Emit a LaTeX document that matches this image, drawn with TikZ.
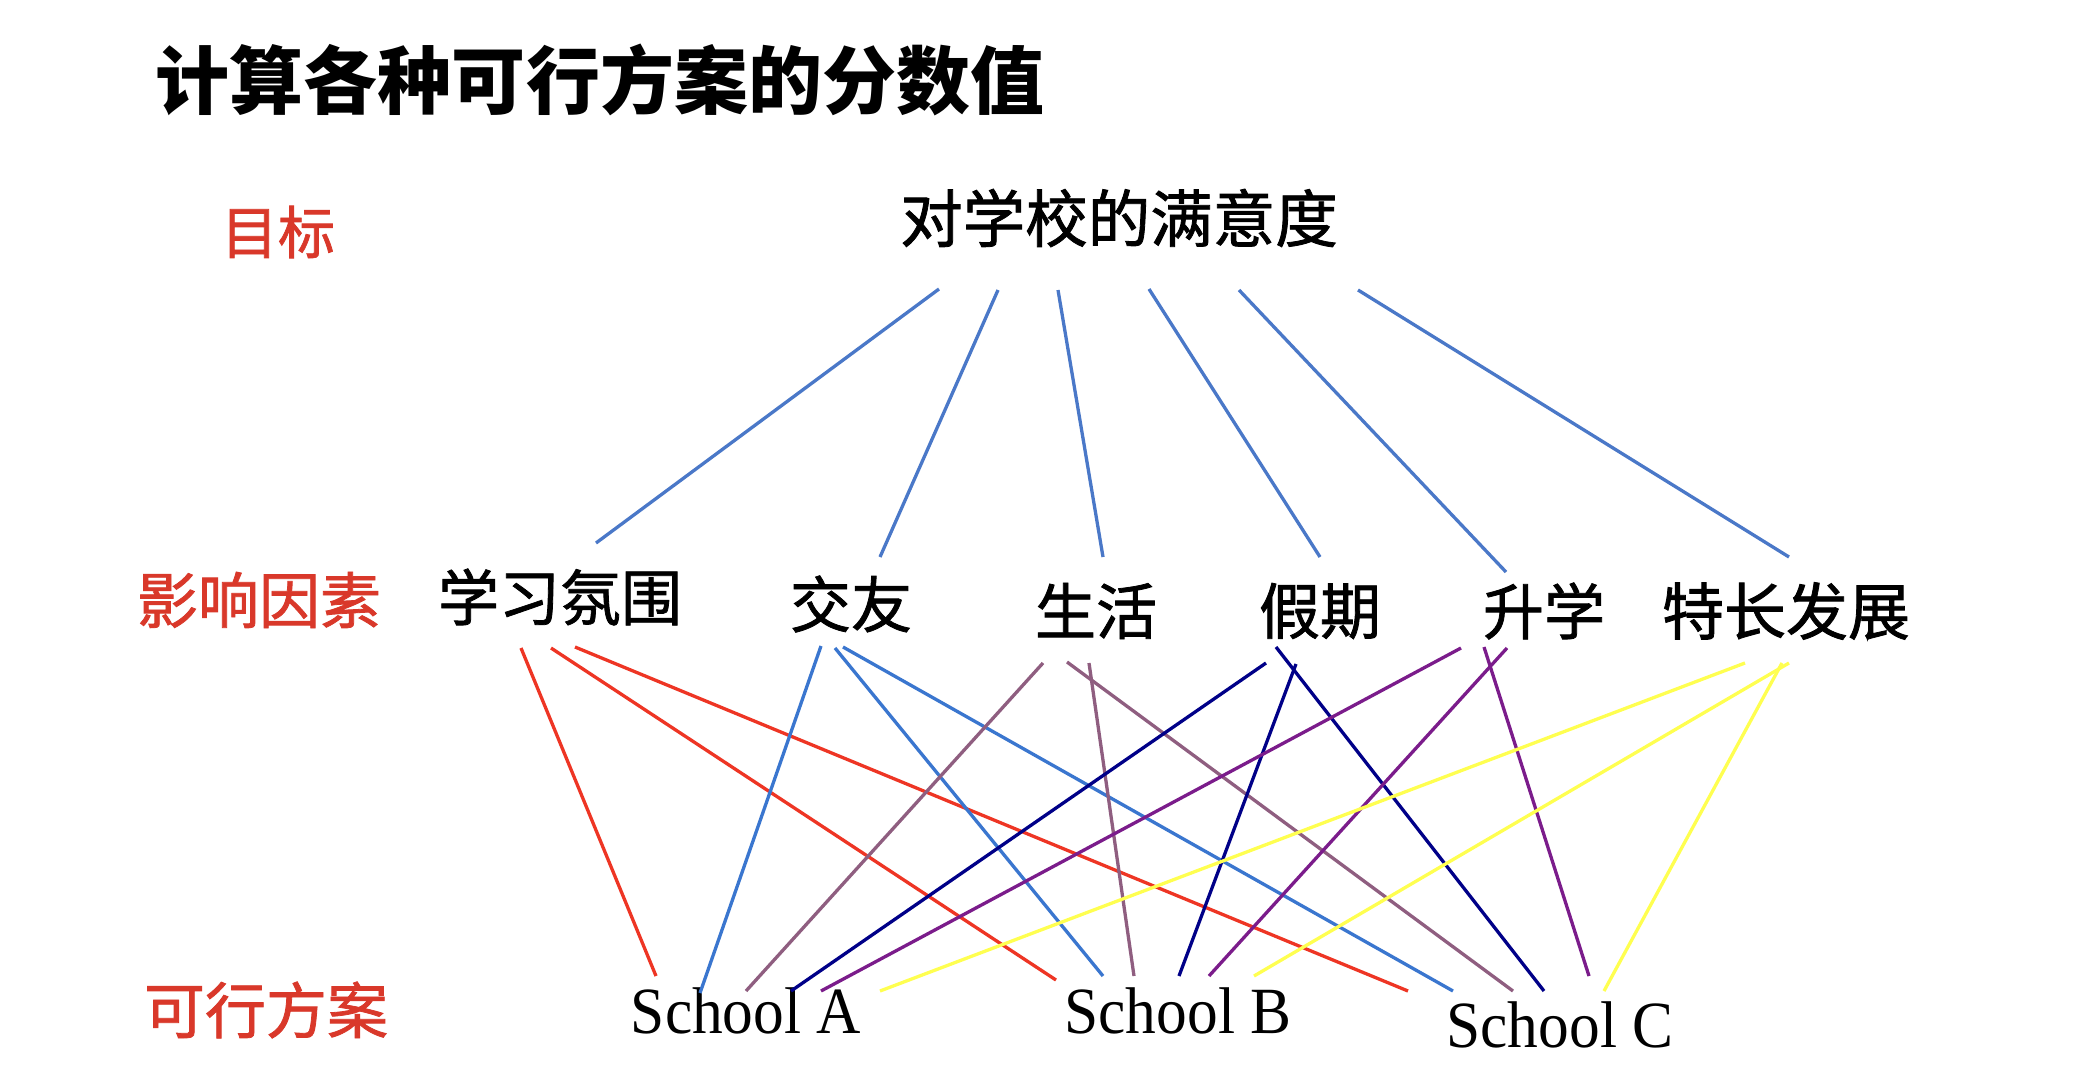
\documentclass[tikz,border=0pt]{standalone}
\usepackage{fontspec}
\newfontfamily\cjk{Noto Sans CJK SC}
\newfontfamily\cjkm[FakeBold=1.3]{Noto Sans CJK SC}
\newfontfamily\schoolfont[FakeStretch=0.93]{Liberation Serif}
\definecolor{goalblue}{HTML}{4A78C8}
\definecolor{lred}{HTML}{EE3524}
\definecolor{lblue}{HTML}{3A76CF}
\definecolor{lmauve}{HTML}{8F5E80}
\definecolor{lnavy}{HTML}{000088}
\definecolor{lpurple}{HTML}{7B1C8B}
\definecolor{lyellow}{HTML}{FFFF50}
\definecolor{labelred}{HTML}{D9382A}
\tikzset{
  cjklabel/.style={font=\cjkm\fontsize{61bp}{61bp}\selectfont, inner sep=0pt, anchor=center},
  rowlabel/.style={cjklabel, text=labelred},
  schoolnode/.style={font=\schoolfont\fontsize{66bp}{66bp}\selectfont, inner sep=0pt, anchor=base},
  conn/.style={line width=3.3bp},
}
\begin{document}
\begin{tikzpicture}[x=1bp,y=-1bp]
\fill[white] (0,0) rectangle (2076,1082);
\useasboundingbox (0,0) rectangle (2076,1082);

% title
\node[inner sep=0pt, font=\cjk\bfseries\fontsize{74bp}{74bp}\selectfont] (title) at (600,80) {计算各种可行方案的分数值};

% row labels
\node[rowlabel, font=\cjkm\fontsize{57bp}{57bp}\selectfont] (lgoal) at (278,232) {目标};
\node[rowlabel] (lfactor) at (259,600) {影响因素};
\node[rowlabel] (lalt) at (266,1010) {可行方案};

% goal
\node[cjklabel, font=\cjkm\fontsize{62.5bp}{62.5bp}\selectfont] (goal) at (1119,218) {对学校的满意度};

% criteria
\node[cjklabel] (c1) at (560,597) {学习氛围};
\node[cjklabel] (c2) at (851,604) {交友};
\node[cjklabel] (c3) at (1096,611) {生活};
\node[cjklabel] (c4) at (1320,611) {假期};
\node[cjklabel] (c5) at (1544,611) {升学};
\node[cjklabel, font=\cjkm\fontsize{62bp}{62bp}\selectfont] (c6) at (1786,611) {特长发展};

% schools
\node[schoolnode] (sA) at (746,1033) {School A};
\node[schoolnode] (sB) at (1178,1033) {School B};
\node[schoolnode] (sC) at (1560,1047) {School C};

% goal line end points
\coordinate (g1) at (939,289);  \coordinate (g1b) at (596,543);
\coordinate (g2) at (998,290);  \coordinate (g2b) at (880,557);
\coordinate (g3) at (1058,290); \coordinate (g3b) at (1103,557);
\coordinate (g4) at (1149,289); \coordinate (g4b) at (1320,557);
\coordinate (g5) at (1239,290); \coordinate (g5b) at (1506,572);
\coordinate (g6) at (1358,290); \coordinate (g6b) at (1789,557);

\draw[conn, goalblue] (g1) -- (g1b);
\draw[conn, goalblue] (g2) -- (g2b);
\draw[conn, goalblue] (g3) -- (g3b);
\draw[conn, goalblue] (g4) -- (g4b);
\draw[conn, goalblue] (g5) -- (g5b);
\draw[conn, goalblue] (g6) -- (g6b);

% criterion -> school end points
\coordinate (r1) at (521,648);  \coordinate (r1b) at (656,976);
\coordinate (r2) at (551,648);  \coordinate (r2b) at (1056,980);
\coordinate (r3) at (575,647);  \coordinate (r3b) at (1408,991);
\coordinate (b1) at (821,646);  \coordinate (b1b) at (700,993);
\coordinate (b2) at (835,648);  \coordinate (b2b) at (1103,976);
\coordinate (b3) at (843,647);  \coordinate (b3b) at (1453,991);
\coordinate (m1) at (1043,663); \coordinate (m1b) at (746,991);
\coordinate (m2) at (1089,663); \coordinate (m2b) at (1134,976);
\coordinate (m3) at (1067,662); \coordinate (m3b) at (1513,991);
\coordinate (n1) at (1266,663); \coordinate (n1b) at (791,991);
\coordinate (n2) at (1296,664); \coordinate (n2b) at (1179,976);
\coordinate (n3) at (1276,647); \coordinate (n3b) at (1544,991);
\coordinate (p1) at (1461,648); \coordinate (p1b) at (821,991);
\coordinate (p2) at (1507,648); \coordinate (p2b) at (1209,976);
\coordinate (p3) at (1484,647); \coordinate (p3b) at (1589,976);
\coordinate (y1) at (1745,663); \coordinate (y1b) at (880,991);
\coordinate (y2) at (1789,663); \coordinate (y2b) at (1254,976);
\coordinate (y3) at (1782,663); \coordinate (y3b) at (1604,991);

\draw[conn, lred] (r1) -- (r1b);
\draw[conn, lred] (r2) -- (r2b);
\draw[conn, lred] (r3) -- (r3b);
\draw[conn, lblue] (b1) -- (b1b);
\draw[conn, lblue] (b2) -- (b2b);
\draw[conn, lblue] (b3) -- (b3b);
\draw[conn, lmauve] (m1) -- (m1b);
\draw[conn, lmauve] (m2) -- (m2b);
\draw[conn, lmauve] (m3) -- (m3b);
\draw[conn, lnavy] (n1) -- (n1b);
\draw[conn, lnavy] (n2) -- (n2b);
\draw[conn, lnavy] (n3) -- (n3b);
\draw[conn, lpurple] (p1) -- (p1b);
\draw[conn, lpurple] (p2) -- (p2b);
\draw[conn, lpurple] (p3) -- (p3b);
\draw[conn, lyellow] (y1) -- (y1b);
\draw[conn, lyellow] (y2) -- (y2b);
\draw[conn, lyellow] (y3) -- (y3b);
\end{tikzpicture}
\end{document}
